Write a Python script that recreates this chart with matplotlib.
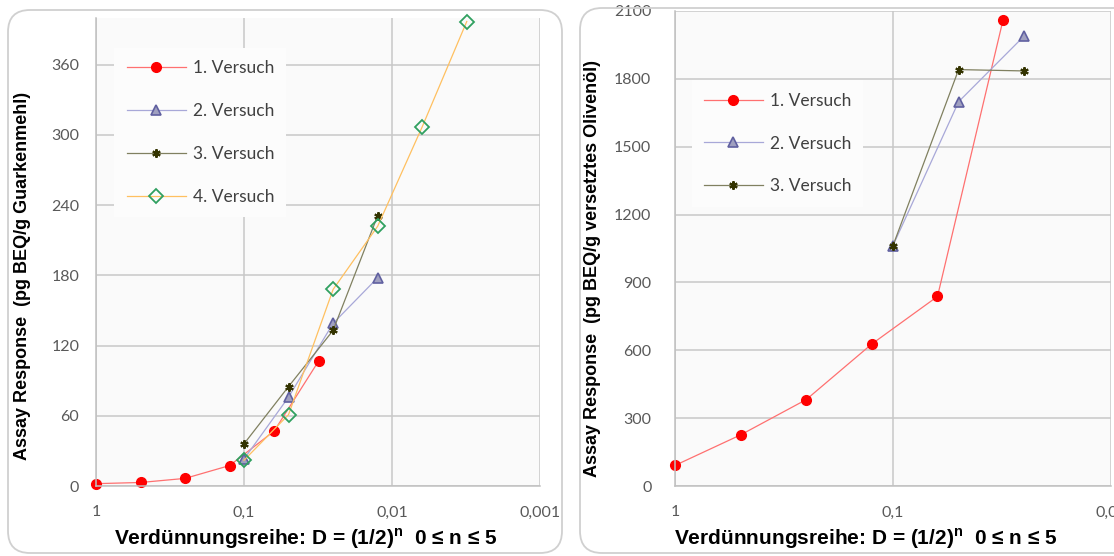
import matplotlib
matplotlib.use("Agg")
import matplotlib.pyplot as plt
from matplotlib.patches import FancyBboxPatch

# Left chart: Guarkenmehl
x_left_1 = [1, 0.5, 0.25, 0.125, 0.0625, 0.03125]
y_left_1 = [2, 3, 6.5, 17.5, 47, 107]
x_left_23 = [0.1, 0.05, 0.025, 0.0125]
y_left_2 = [23, 76, 139, 178]
y_left_3 = [36, 85, 133, 231]
x_left_4 = [0.1, 0.05, 0.025, 0.0125, 0.00625, 0.003125]
y_left_4 = [22, 61, 168, 222, 307, 397]

# Right chart: versetztes Olivenöl
x_right_1 = [1, 0.5, 0.25, 0.125, 0.0625, 0.03125]
y_right_1 = [91, 226, 382, 628, 838, 2062]
x_right_23 = [0.1, 0.05, 0.025]
y_right_2 = [1063, 1699, 1990]
y_right_3 = [1063, 1841, 1835]

labels = ["1. Versuch", "2. Versuch", "3. Versuch", "4. Versuch"]
x_ticks_left = [1, 0.1, 0.01, 0.001]
x_ticklabels_left = ["1", "0,1", "0,01", "0,001"]
x_ticks_right = [1, 0.1, 0.01]
x_ticklabels_right = ["1", "0,1", "0,01"]
y_ticks_left = [0, 60, 120, 180, 240, 300, 360]
y_ticks_right = [0, 300, 600, 900, 1200, 1500, 1800, 2100]

plt.rcParams["mathtext.fontset"] = "custom"
plt.rcParams["mathtext.bf"] = "Liberation Sans:bold"
plt.rcParams["mathtext.rm"] = "Liberation Sans:bold"

fig = plt.figure(figsize=(11.14, 5.56), dpi=100)

# rounded panel frames
for (x0, y0, w, h) in [(0.08, 0.03, 5.54, 5.43), (5.80, 0.03, 6.0, 5.45)]:
    fig.patches.append(FancyBboxPatch((x0, y0), w, h,
                                      boxstyle="round,pad=0,rounding_size=0.22",
                                      transform=fig.dpi_scale_trans,
                                      facecolor="none", edgecolor="#d0d0d0",
                                      linewidth=1.3))

ax1 = fig.add_axes([96 / 1114, 70 / 556, 444 / 1114, 468 / 556])
ax2 = fig.add_axes([675 / 1114, 70 / 556, 436 / 1114, 475 / 556])

style1 = dict(color="#ff7070", lw=0.9, marker="o", ms=7, mfc="#ff0000", mec="#ff0000")
style2 = dict(color="#a8a8d8", lw=0.9, marker="^", ms=7.5, mfc="#a0a0c0", mec="#6060a0", mew=1.2)
style3 = dict(color="#808060", lw=0.9, marker=(6, 2, 0), ms=6, mfc="#333300", mec="#333300", mew=1.5)
style4 = dict(color="#ffc060", lw=0.9, marker="D", ms=7, mfc="none", mec="#30a060", mew=1.3)

ax1.plot(x_left_1, y_left_1, label=labels[0], **style1)
ax1.plot(x_left_23, y_left_2, label=labels[1], **style2)
ax1.plot(x_left_23, y_left_3, label=labels[2], **style3)
ax1.plot(x_left_4, y_left_4, label=labels[3], **style4)

ax2.plot(x_right_1, y_right_1, label=labels[0], **style1)
ax2.plot(x_right_23, y_right_2, label=labels[1], **style2)
ax2.plot(x_right_23, y_right_3, label=labels[2], **style3)

ax1.set_xscale("log")
ax2.set_xscale("log")
ax1.set_xlim(1, 0.001)
ax2.set_xlim(1, 0.01)
ax1.set_ylim(0, 400)
ax2.set_ylim(0, 2100)

tick_font = dict(family="Lato", size=11.5, color="#595959")
for ax, xt, xtl, yt in [(ax1, x_ticks_left, x_ticklabels_left, y_ticks_left),
                        (ax2, x_ticks_right, x_ticklabels_right, y_ticks_right)]:
    ax.set_xticks(xt)
    ax.set_xticklabels(xtl, fontdict=tick_font)
    ax.xaxis.set_minor_locator(plt.NullLocator())
    ax.set_yticks(yt)
    ax.set_yticklabels([str(v) for v in yt], fontdict=tick_font)
    ax.tick_params(axis="both", length=0)
    ax.tick_params(axis="x", pad=14)
    ax.set_facecolor("#fafafa")
    ax.grid(True, color="#c8c8c8", lw=1.1)
    ax.set_axisbelow(True)
    for s in ["top", "right"]:
        ax.spines[s].set_visible(False)
    for s in ["left", "bottom"]:
        ax.spines[s].set_color("#c0c0c0")
        ax.spines[s].set_linewidth(1.1)
    for line in ax.get_lines():
        line.set_clip_on(False)

ax1.tick_params(axis="y", pad=12)
ax2.tick_params(axis="y", pad=17)

label_font = dict(family="Liberation Sans", weight="bold", size=13, color="black")
xlabel_font = dict(family="Liberation Sans", weight="bold", size=15, color="black")
xlab = r"Verdünnungsreihe: D = (1/2)$^\mathbf{n}$  0 ≤ n ≤ 5"

ax1.set_ylabel("Assay Response  (pg BEQ/g Guarkenmehl)", fontdict=label_font)
ax1.yaxis.set_label_coords(-0.147, 0.449)
ax1.set_xlabel(xlab, fontdict=xlabel_font)
ax1.xaxis.set_label_coords(0.473, -0.086)

ax2.set_ylabel("Assay Response  (pg BEQ/g versetztes Olivenöl)", fontdict=label_font)
ax2.yaxis.set_label_coords(-0.17, 0.457)
ax2.set_xlabel(xlab, fontdict=xlabel_font)
ax2.xaxis.set_label_coords(0.438, -0.084)

leg_kw = dict(loc="upper left", frameon=True, fancybox=False, facecolor="#fcfcfc",
              edgecolor="none", framealpha=1, handlelength=3.4, handletextpad=0.4,
              labelspacing=1.55, borderpad=0.7,
              prop=dict(family="Lato", size=12.5))
l1 = ax1.legend(bbox_to_anchor=(0.022, 0.955), **leg_kw)
l2 = ax2.legend(bbox_to_anchor=(0.018, 0.872), **leg_kw)
for leg in (l1, l2):
    for t in leg.get_texts():
        t.set_color("#404040")

fig.savefig("out.png", dpi=100)
